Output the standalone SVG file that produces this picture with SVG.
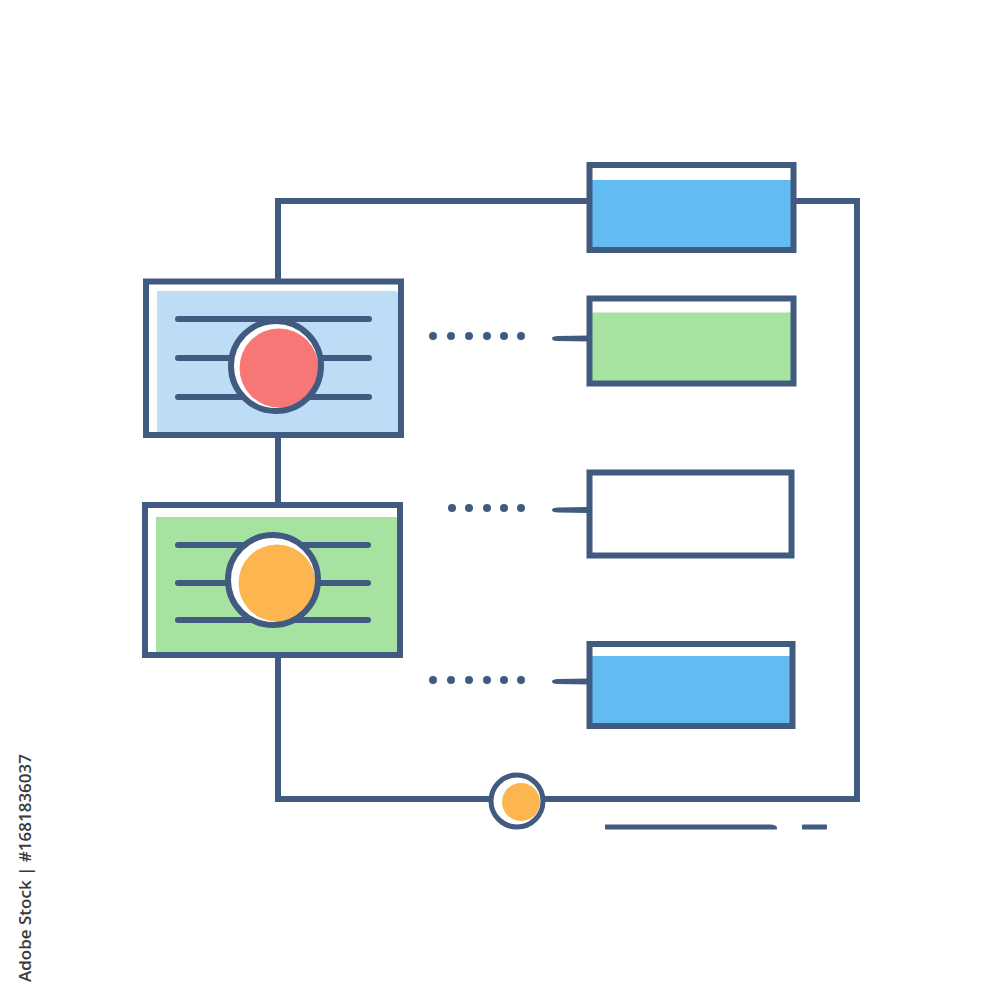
<svg xmlns="http://www.w3.org/2000/svg" width="1000" height="1000" viewBox="0 0 1000 1000">
<style>
.ln{fill:none;stroke:#415a80;stroke-width:6;stroke-linejoin:miter}
.bd{fill:none;stroke:#415a80;stroke-width:6}
.bar{stroke:#415a80;stroke-width:6;stroke-linecap:round}
.dot{fill:#415a80}
.wm{font-family:"Open Sans","DejaVu Sans",sans-serif;font-size:17px;font-weight:600;fill:#3a3a3a}
</style>
<rect width="1000" height="1000" fill="#ffffff"/>
<g id="connectors">
<path class="ln" d="M278 281 V201 H589"/>
<path class="ln" d="M794 201 H857 V799 H545"/>
<path class="ln" d="M490 799 H278 V657"/>
<path class="ln" d="M278 435 V505"/>
<g id="dots1"><circle class="dot" cx="433" cy="336" r="4"/><circle class="dot" cx="451" cy="336" r="4"/><circle class="dot" cx="469" cy="336" r="4"/><circle class="dot" cx="487" cy="336" r="4"/><circle class="dot" cx="504" cy="336" r="4"/><circle class="dot" cx="521" cy="336" r="4"/></g>
<path class="dot" d="M552 338.5 Q552 336 558 336 L589 335.5 V341.5 L558 341 Q552 341 552 338.5 Z"/>
<g id="dots2"><circle class="dot" cx="452" cy="508" r="4"/><circle class="dot" cx="469" cy="508" r="4"/><circle class="dot" cx="487" cy="508" r="4"/><circle class="dot" cx="504" cy="508" r="4"/><circle class="dot" cx="521" cy="508" r="4"/></g>
<path class="dot" d="M552 510 Q552 507.5 558 507.5 L589 507 V513 L558 512.5 Q552 512.5 552 510 Z"/>
<g id="dots3"><circle class="dot" cx="433" cy="680" r="4"/><circle class="dot" cx="451" cy="680" r="4"/><circle class="dot" cx="469" cy="680" r="4"/><circle class="dot" cx="487" cy="680" r="4"/><circle class="dot" cx="504" cy="680" r="4"/><circle class="dot" cx="521" cy="680" r="4"/></g>
<path class="dot" d="M552 681.5 Q552 679 558 679 L589 678.5 V684.5 L558 684 Q552 684 552 681.5 Z"/>
</g>
<g id="card-blue">
<rect x="146" y="281.5" width="255" height="153.5" fill="#ffffff"/>
<path d="M157 291 H394 Q399 291 399 296 V433 H157 Z" fill="#bddcf5"/>
<rect class="bd" x="146" y="281.5" width="255" height="153.5"/>
<line class="bar" x1="178" y1="319" x2="369" y2="319"/>
<line class="bar" x1="178" y1="358" x2="369" y2="358"/>
<line class="bar" x1="178" y1="397" x2="369" y2="397"/>
<circle cx="276" cy="366" r="45" fill="#ffffff"/>
<circle cx="279" cy="368" r="39.5" fill="#f77676"/>
<circle cx="276" cy="366" r="45" fill="none" stroke="#415a80" stroke-width="6"/>
</g>
<g id="card-green">
<rect x="145" y="505" width="255" height="150" fill="#ffffff"/>
<path d="M156 517 H394 Q399 517 399 522 V655 H156 Z" fill="#a6e3a1"/>
<rect class="bd" x="145" y="505" width="255" height="150"/>
<line class="bar" x1="178" y1="545" x2="368" y2="545"/>
<line class="bar" x1="178" y1="583" x2="368" y2="583"/>
<line class="bar" x1="178" y1="620" x2="368" y2="620"/>
<circle cx="273" cy="580" r="45" fill="#ffffff"/>
<circle cx="277" cy="583" r="38.5" fill="#fdb64f"/>
<circle cx="273" cy="580" r="45" fill="none" stroke="#415a80" stroke-width="6"/>
</g>
<g id="box1">
<rect x="589.5" y="165" width="204" height="85" fill="#62bcf2"/>
<rect x="589.5" y="165" width="204" height="15" fill="#ffffff"/>
<rect class="bd" x="589.5" y="165" width="204" height="85"/>
</g>
<g id="box2">
<rect x="589.5" y="298.5" width="204" height="85" fill="#a6e3a1"/>
<path d="M589.5 298.5 H793.5 V311 Q792 312.5 788 312.5 H589.5 Z" fill="#ffffff"/>
<rect class="bd" x="589.5" y="298.5" width="204" height="85"/>
</g>
<g id="box3">
<rect x="589.5" y="472.5" width="202" height="83" fill="#ffffff"/>
<rect class="bd" x="589.5" y="472.5" width="202" height="83"/>
</g>
<g id="box4">
<rect x="589.5" y="644" width="203" height="82" fill="#62bcf2"/>
<rect x="589.5" y="644" width="203" height="12" fill="#ffffff"/>
<rect class="bd" x="589.5" y="644" width="203" height="82"/>
</g>
<g id="junction">
<circle cx="517" cy="801" r="26" fill="#ffffff"/>
<circle cx="521" cy="802" r="19" fill="#fdb64f"/>
<circle cx="517" cy="801" r="26" fill="none" stroke="#415a80" stroke-width="5"/>
</g>
<g id="footer-lines">
<path class="dot" d="M605 824.5 H768 Q777 824 777 828 V829.5 H605 Z"/>
<rect class="dot" x="802" y="824.5" width="25" height="5" rx="1"/>
</g>
<text class="wm" transform="translate(31,982) rotate(-90)">Adobe Stock | #1681836037</text>
</svg>
